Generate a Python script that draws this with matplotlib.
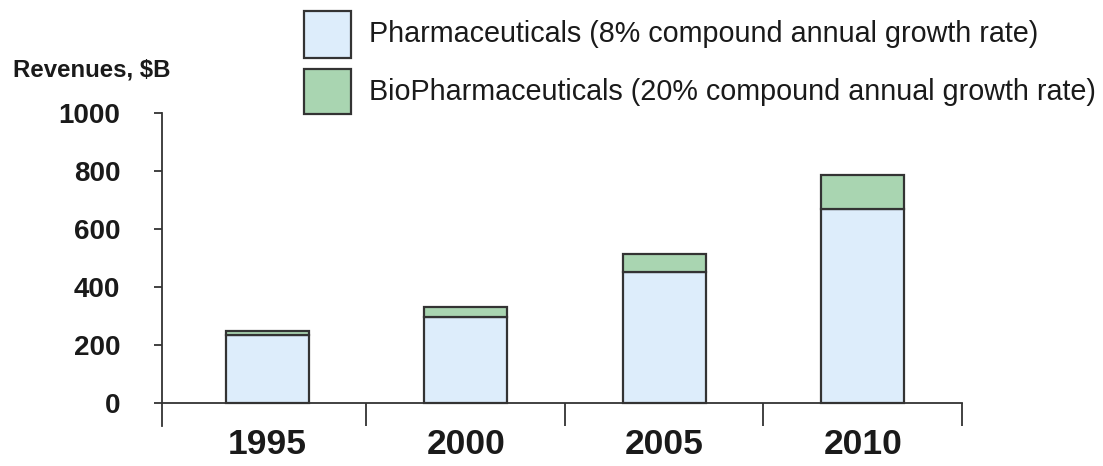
import matplotlib
matplotlib.use("Agg")
import matplotlib.pyplot as plt
from matplotlib.patches import Rectangle

plt.rcParams['font.family'] = ['Liberation Sans', 'DejaVu Sans']

years = ['1995', '2000', '2005', '2010']
pharma = [233, 297, 450, 669]
biopharma = [14, 32, 64, 118]
legend_labels = ['Pharmaceuticals (8% compound annual growth rate)',
                 'BioPharmaceuticals (20% compound annual growth rate)']
yticks = [0, 200, 400, 600, 800, 1000]

PHARMA_COLOR = '#ddedfb'
BIO_COLOR = '#a9d5b1'
EDGE = '#333333'
TEXT = '#1a1a1a'

W, H = 1103, 466
fig = plt.figure(figsize=(W / 100, H / 100), dpi=100)
ax = fig.add_axes([162 / W, 1 - 426 / H, (962 - 162) / W, (426 - 113) / H])

x = [i + 0.5 for i in range(len(years))]
ax.bar(x, pharma, width=0.42, color=PHARMA_COLOR, edgecolor=EDGE, linewidth=1.6)
ax.bar(x, biopharma, bottom=pharma, width=0.42, color=BIO_COLOR,
       edgecolor=EDGE, linewidth=1.6)

ax.set_xlim(-0.03, 4)
ax.set_ylim(-80, 1000)

for side in ('top', 'right'):
    ax.spines[side].set_visible(False)
ax.spines['bottom'].set_position(('data', 0))
for side in ('left', 'bottom'):
    ax.spines[side].set_color(EDGE)
    ax.spines[side].set_linewidth(1.3)

# category separators below the baseline, year labels centred between them
ax.set_xticks([1, 2, 3, 4])
ax.set_xticklabels([])
ax.set_xticks(x, minor=True)
ax.set_xticklabels(years, minor=True, fontsize=25.5, fontweight='bold', color=TEXT)
ax.tick_params(axis='x', which='major', direction='out', length=16.5,
               width=1.3, color=EDGE)
ax.tick_params(axis='x', which='minor', length=0, pad=18)

ax.set_yticks(yticks)
ax.set_yticklabels([str(v) for v in yticks], fontsize=20, fontweight='bold', color=TEXT)
ax.tick_params(axis='y', direction='out', length=6, width=1.3, color=EDGE, pad=24)

fig.text(13 / W, 1 - 77 / H, 'Revenues, $B', fontsize=17.3, fontweight='bold',
         color=TEXT, va='baseline', ha='left')

# legend drawn as boxes plus text in figure pixels
for (top, bottom), label, color in zip([(11, 58), (69, 114)], legend_labels,
                                       [PHARMA_COLOR, BIO_COLOR]):
    fig.patches.append(Rectangle((304 / W, 1 - bottom / H), 47 / W, (bottom - top) / H,
                                 transform=fig.transFigure, facecolor=color,
                                 edgecolor=EDGE, linewidth=1.6))
    fig.text(369 / W, 1 - (top + bottom) / 2 / H, label, fontsize=20.7,
             color=TEXT, va='center', ha='left')

fig.savefig('out.png', dpi=100)
